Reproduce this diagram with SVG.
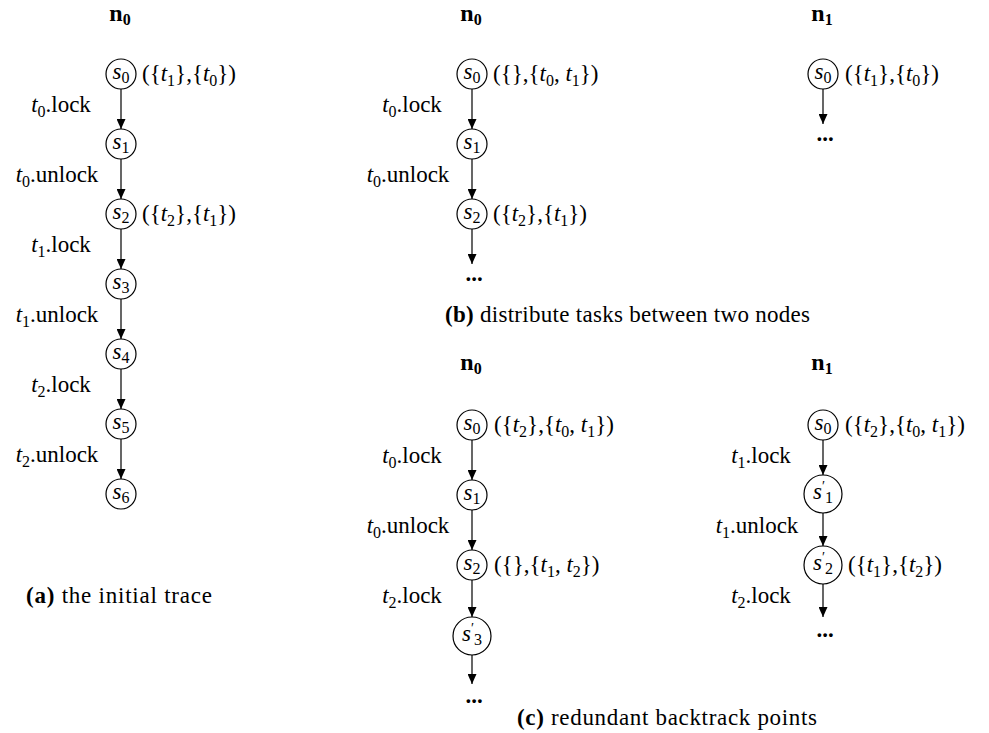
<svg xmlns="http://www.w3.org/2000/svg" width="989" height="733" viewBox="0 0 989 733" font-family="'Liberation Serif', 'DejaVu Serif', serif">
<defs>
<marker id="ah" markerUnits="userSpaceOnUse" markerWidth="10" markerHeight="9" refX="10" refY="4.5" orient="auto">
<path d="M0,0 L10,4.5 L0,9 z" fill="#000"/>
</marker>
<style>
text{font-family:'Liberation Serif','DejaVu Serif',serif;font-size:23px;fill:#000}
.i{font-style:italic}
.s{font-size:16px}
.p{font-size:14px}
.b{font-weight:bold}
.hd{font-weight:bold;font-size:24px}
circle{fill:#fff;stroke:#000;stroke-width:1.2}
.c line{stroke:#000;stroke-width:1.2;marker-end:url(#ah)}
.m{text-anchor:middle}
</style>
</defs>
<rect width="989" height="733" fill="#fff"/>

<!-- connectors -->
<g id="connectors" class="c">
<line x1="121" y1="89" x2="121" y2="129"/>
<line x1="121" y1="159" x2="121" y2="199"/>
<line x1="121" y1="229" x2="121" y2="269"/>
<line x1="121" y1="299" x2="121" y2="339"/>
<line x1="121" y1="369" x2="121" y2="409"/>
<line x1="121" y1="439" x2="121" y2="479"/>
<line x1="472" y1="89" x2="472" y2="129"/>
<line x1="472" y1="159" x2="472" y2="199"/>
<line x1="472" y1="229" x2="472" y2="264"/>
<line x1="823" y1="89" x2="823" y2="124"/>
<line x1="472" y1="440" x2="472" y2="480"/>
<line x1="472" y1="510" x2="472" y2="550"/>
<line x1="472" y1="580" x2="472" y2="617"/>
<line x1="472" y1="655" x2="472" y2="684"/>
<line x1="823" y1="440" x2="823" y2="475"/>
<line x1="823" y1="513" x2="823" y2="546"/>
<line x1="823" y1="584" x2="823" y2="617"/>
</g>

<!-- panel a -->
<g id="panel-a">
<text class="hd m" x="120" y="21">n<tspan class="s" dy="4">0</tspan></text>
<g id="a-s0"><circle cx="121" cy="74" r="15"/><text class="m" x="121" y="79"><tspan class="i">s</tspan><tspan class="s" dy="4">0</tspan></text>
<text x="142" y="81">({<tspan class="i">t</tspan><tspan class="s" dy="5">1</tspan><tspan dy="-5">},{</tspan><tspan class="i">t</tspan><tspan class="s" dy="5">0</tspan><tspan dy="-5">})</tspan></text></g>
<g id="a-s1"><circle cx="121" cy="144" r="15"/><text class="m" x="121" y="149"><tspan class="i">s</tspan><tspan class="s" dy="4">1</tspan></text></g>
<g id="a-s2"><circle cx="121" cy="214" r="15"/><text class="m" x="121" y="219"><tspan class="i">s</tspan><tspan class="s" dy="4">2</tspan></text>
<text x="142" y="221">({<tspan class="i">t</tspan><tspan class="s" dy="5">2</tspan><tspan dy="-5">},{</tspan><tspan class="i">t</tspan><tspan class="s" dy="5">1</tspan><tspan dy="-5">})</tspan></text></g>
<g id="a-s3"><circle cx="121" cy="284" r="15"/><text class="m" x="121" y="289"><tspan class="i">s</tspan><tspan class="s" dy="4">3</tspan></text></g>
<g id="a-s4"><circle cx="121" cy="354" r="15"/><text class="m" x="121" y="359"><tspan class="i">s</tspan><tspan class="s" dy="4">4</tspan></text></g>
<g id="a-s5"><circle cx="121" cy="424" r="15"/><text class="m" x="121" y="429"><tspan class="i">s</tspan><tspan class="s" dy="4">5</tspan></text></g>
<g id="a-s6"><circle cx="121" cy="494" r="15"/><text class="m" x="121" y="499"><tspan class="i">s</tspan><tspan class="s" dy="4">6</tspan></text></g>
<text class="m" x="61" y="112"><tspan class="i">t</tspan><tspan class="s" dy="5">0</tspan><tspan dy="-5">.lock</tspan></text>
<text class="m" x="57" y="182"><tspan class="i">t</tspan><tspan class="s" dy="5">0</tspan><tspan dy="-5">.unlock</tspan></text>
<text class="m" x="61" y="252"><tspan class="i">t</tspan><tspan class="s" dy="5">1</tspan><tspan dy="-5">.lock</tspan></text>
<text class="m" x="57" y="322"><tspan class="i">t</tspan><tspan class="s" dy="5">1</tspan><tspan dy="-5">.unlock</tspan></text>
<text class="m" x="61" y="392"><tspan class="i">t</tspan><tspan class="s" dy="5">2</tspan><tspan dy="-5">.lock</tspan></text>
<text class="m" x="57" y="462"><tspan class="i">t</tspan><tspan class="s" dy="5">2</tspan><tspan dy="-5">.unlock</tspan></text>
<text x="26" y="603" textLength="186" lengthAdjust="spacing"><tspan class="b">(a)</tspan> the initial trace</text>
</g>

<!-- panel b -->
<g id="panel-b">
<text class="hd m" x="471" y="21">n<tspan class="s" dy="4">0</tspan></text>
<g id="b-n0-s0"><circle cx="472" cy="74" r="15"/><text class="m" x="472" y="79"><tspan class="i">s</tspan><tspan class="s" dy="4">0</tspan></text>
<text x="493" y="81">({},{<tspan class="i">t</tspan><tspan class="s" dy="5">0</tspan><tspan dy="-5">, </tspan><tspan class="i">t</tspan><tspan class="s" dy="5">1</tspan><tspan dy="-5">})</tspan></text></g>
<g id="b-n0-s1"><circle cx="472" cy="144" r="15"/><text class="m" x="472" y="149"><tspan class="i">s</tspan><tspan class="s" dy="4">1</tspan></text></g>
<g id="b-n0-s2"><circle cx="472" cy="214" r="15"/><text class="m" x="472" y="219"><tspan class="i">s</tspan><tspan class="s" dy="4">2</tspan></text>
<text x="493" y="221">({<tspan class="i">t</tspan><tspan class="s" dy="5">2</tspan><tspan dy="-5">},{</tspan><tspan class="i">t</tspan><tspan class="s" dy="5">1</tspan><tspan dy="-5">})</tspan></text></g>
<text class="b m" x="474" y="281">...</text>
<text class="m" x="412" y="112"><tspan class="i">t</tspan><tspan class="s" dy="5">0</tspan><tspan dy="-5">.lock</tspan></text>
<text class="m" x="408" y="182"><tspan class="i">t</tspan><tspan class="s" dy="5">0</tspan><tspan dy="-5">.unlock</tspan></text>

<text class="hd m" x="822" y="21">n<tspan class="s" dy="4">1</tspan></text>
<g id="b-n1-s0"><circle cx="823" cy="74" r="15"/><text class="m" x="823" y="79"><tspan class="i">s</tspan><tspan class="s" dy="4">0</tspan></text>
<text x="845" y="81">({<tspan class="i">t</tspan><tspan class="s" dy="5">1</tspan><tspan dy="-5">},{</tspan><tspan class="i">t</tspan><tspan class="s" dy="5">0</tspan><tspan dy="-5">})</tspan></text></g>
<text class="b m" x="825" y="141">...</text>
<text x="445" y="322" textLength="365" lengthAdjust="spacing"><tspan class="b">(b)</tspan> distribute tasks between two nodes</text>
</g>

<!-- panel c -->
<g id="panel-c">
<text class="hd m" x="471" y="370">n<tspan class="s" dy="4">0</tspan></text>
<g id="c-n0-s0"><circle cx="472" cy="425" r="15"/><text class="m" x="472" y="430"><tspan class="i">s</tspan><tspan class="s" dy="4">0</tspan></text>
<text x="494" y="432">({<tspan class="i">t</tspan><tspan class="s" dy="5">2</tspan><tspan dy="-5">},{</tspan><tspan class="i">t</tspan><tspan class="s" dy="5">0</tspan><tspan dy="-5">, </tspan><tspan class="i">t</tspan><tspan class="s" dy="5">1</tspan><tspan dy="-5">})</tspan></text></g>
<g id="c-n0-s1"><circle cx="472" cy="495" r="15"/><text class="m" x="472" y="500"><tspan class="i">s</tspan><tspan class="s" dy="4">1</tspan></text></g>
<g id="c-n0-s2"><circle cx="472" cy="565" r="15"/><text class="m" x="472" y="570"><tspan class="i">s</tspan><tspan class="s" dy="4">2</tspan></text>
<text x="494" y="572">({},{<tspan class="i">t</tspan><tspan class="s" dy="5">1</tspan><tspan dy="-5">, </tspan><tspan class="i">t</tspan><tspan class="s" dy="5">2</tspan><tspan dy="-5">})</tspan></text></g>
<g id="c-n0-s3p"><circle cx="472" cy="636" r="19"/><text x="462" y="641"><tspan class="i">s</tspan><tspan class="p" dy="-8">′</tspan><tspan class="s" dy="12">3</tspan></text></g>
<text class="b m" x="474" y="703">...</text>
<text class="m" x="412" y="463"><tspan class="i">t</tspan><tspan class="s" dy="5">0</tspan><tspan dy="-5">.lock</tspan></text>
<text class="m" x="408" y="533"><tspan class="i">t</tspan><tspan class="s" dy="5">0</tspan><tspan dy="-5">.unlock</tspan></text>
<text class="m" x="412" y="603"><tspan class="i">t</tspan><tspan class="s" dy="5">2</tspan><tspan dy="-5">.lock</tspan></text>

<text class="hd m" x="822" y="370">n<tspan class="s" dy="4">1</tspan></text>
<g id="c-n1-s0"><circle cx="823" cy="425" r="15"/><text class="m" x="823" y="430"><tspan class="i">s</tspan><tspan class="s" dy="4">0</tspan></text>
<text x="845" y="432">({<tspan class="i">t</tspan><tspan class="s" dy="5">2</tspan><tspan dy="-5">},{</tspan><tspan class="i">t</tspan><tspan class="s" dy="5">0</tspan><tspan dy="-5">, </tspan><tspan class="i">t</tspan><tspan class="s" dy="5">1</tspan><tspan dy="-5">})</tspan></text></g>
<g id="c-n1-s1p"><circle cx="823" cy="494" r="19"/><text x="813" y="499"><tspan class="i">s</tspan><tspan class="p" dy="-8">′</tspan><tspan class="s" dy="12">1</tspan></text></g>
<g id="c-n1-s2p"><circle cx="823" cy="565" r="19"/><text x="813" y="570"><tspan class="i">s</tspan><tspan class="p" dy="-8">′</tspan><tspan class="s" dy="12">2</tspan></text>
<text x="848" y="572">({<tspan class="i">t</tspan><tspan class="s" dy="5">1</tspan><tspan dy="-5">},{</tspan><tspan class="i">t</tspan><tspan class="s" dy="5">2</tspan><tspan dy="-5">})</tspan></text></g>
<text class="b m" x="825" y="637">...</text>
<text class="m" x="761" y="463"><tspan class="i">t</tspan><tspan class="s" dy="5">1</tspan><tspan dy="-5">.lock</tspan></text>
<text class="m" x="757" y="533"><tspan class="i">t</tspan><tspan class="s" dy="5">1</tspan><tspan dy="-5">.unlock</tspan></text>
<text class="m" x="761" y="603"><tspan class="i">t</tspan><tspan class="s" dy="5">2</tspan><tspan dy="-5">.lock</tspan></text>
<text x="517" y="725" textLength="300" lengthAdjust="spacing"><tspan class="b">(c)</tspan> redundant backtrack points</text>
</g>
</svg>
